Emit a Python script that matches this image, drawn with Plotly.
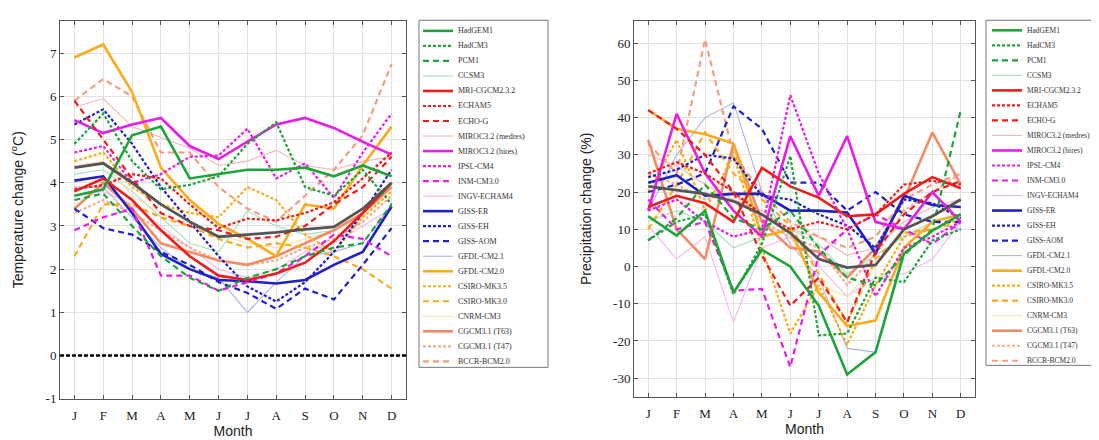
import plotly.graph_objects as go

# ---------------- data ----------------
MONTHS = list(range(1, 13))
MONTH_LABELS = ["J", "F", "M", "A", "M", "J", "J", "A", "S", "O", "N", "D"]

MODEL_NAMES = [
    "HadGEM1", "HadCM3", "PCM1", "CCSM3",
    "MRI-CGCM2.3.2", "ECHAM5", "ECHO-G", "MIROC3.2 (medres)",
    "MIROC3.2 (hires)", "IPSL-CM4", "INM-CM3.0", "INGV-ECHAM4",
    "GISS-ER", "GISS-EH", "GISS-AOM", "GFDL-CM2.1",
    "GFDL-CM2.0", "CSIRO-MK3.5", "CSIRO-MK3.0", "CNRM-CM3",
    "CGCM3.1 (T63)", "CGCM3.1 (T47)", "BCCR-BCM2.0",
]

# Temperature change (deg C)
T_HADGEM1 = [3.7, 3.85, 5.1, 5.3, 4.1, 4.2, 4.3, 4.3, 4.35, 4.15, 4.4, 4.15]
T_HADCM3 = [4.9, 5.6, 4.5, 3.85, 3.95, 4.15, 4.9, 5.4, 3.9, 3.7, 4.3, 3.5]
T_PCM1 = [3.6, 3.75, 3.0, 2.3, 1.8, 1.5, 1.8, 2.0, 2.3, 2.5, 2.6, 3.5]
T_CCSM3 = [4.2, 4.3, 3.8, 3.2, 2.6, 2.4, 3.35, 3.0, 2.8, 2.9, 3.3, 3.9]
T_MRI = [3.8, 4.1, 3.6, 2.9, 2.3, 1.85, 1.75, 1.9, 2.15, 2.65, 3.3, 4.0]
T_ECHAM5 = [3.85, 3.95, 4.2, 4.1, 3.5, 2.95, 3.17, 3.13, 3.3, 3.55, 4.1, 4.7]
T_ECHOG = [5.9, 5.0, 4.1, 3.3, 3.0, 2.9, 2.7, 2.75, 3.0, 3.5, 3.9, 4.6]
T_MIROC_MED = [5.75, 5.95, 5.3, 5.05, 4.8, 4.4, 4.5, 4.75, 4.4, 4.3, 4.5, 4.6]
T_MIROC_HI = [5.45, 5.15, 5.35, 5.5, 4.85, 4.55, 4.95, 5.35, 5.5, 5.27, 4.95, 4.65]
T_IPSL = [4.7, 4.85, 4.0, 4.2, 4.6, 4.63, 5.25, 4.1, 4.45, 3.65, 4.7, 5.6]
T_INM = [2.9, 3.2, 3.4, 1.85, 1.85, 1.5, 1.7, 1.9, 2.3, 2.8, 2.7, 2.3]
T_INGV = [3.7, 3.8, 3.5, 3.0, 2.5, 2.0, 1.8, 2.0, 2.4, 2.6, 3.0, 3.4]
T_GISS_ER = [4.05, 4.15, 3.3, 2.35, 2.0, 1.75, 1.72, 1.67, 1.75, 2.1, 2.4, 3.45]
T_GISS_EH = [5.35, 5.7, 4.9, 3.9, 3.1, 2.3, 1.6, 1.25, 1.7, 2.4, 3.3, 4.3]
T_GISS_AOM = [3.4, 2.95, 2.8, 2.4, 2.1, 1.7, 1.45, 1.08, 1.55, 1.3, 2.1, 2.95]
T_GFDL21 = [3.9, 3.9, 3.2, 2.5, 2.0, 1.8, 1.0, 1.7, 2.3, 2.4, 2.6, 3.5]
T_GFDL20 = [6.9, 7.2, 6.1, 4.35, 3.6, 3.05, 2.7, 2.3, 3.5, 3.4, 4.4, 5.3]
T_CSIRO35 = [4.5, 4.7, 3.9, 3.5, 3.3, 3.2, 3.9, 3.6, 2.8, 2.4, 3.2, 3.8]
T_CSIRO30 = [2.3, 3.5, 3.5, 3.2, 3.0, 2.7, 2.5, 2.6, 2.5, 2.3, 2.0, 1.55]
T_CNRM = [4.4, 4.5, 3.7, 3.3, 3.0, 2.8, 2.6, 2.5, 2.7, 2.9, 3.2, 3.9]
T_CGCM63 = [3.4, 4.0, 3.4, 2.6, 2.4, 2.2, 2.1, 2.3, 2.6, 2.9, 3.3, 3.9]
T_CGCM47 = [3.3, 3.6, 3.3, 2.9, 2.5, 2.2, 2.1, 2.2, 2.5, 2.7, 3.1, 3.7]
T_BCCR = [5.9, 6.4, 6.0, 4.7, 4.7, 3.9, 3.4, 3.1, 3.7, 4.3, 5.1, 6.75]
T_MEAN = [4.35, 4.45, 4.0, 3.5, 3.1, 2.75, 2.8, 2.85, 2.92, 2.98, 3.4, 4.0]

# Precipitation change (%)
P_HADGEM1 = [13.5, 8.3, 15, -7, 4.5, 0, -10.5, -29, -23, 3.5, 9.6, 14]
P_HADCM3 = [7, 12, 14, -7.5, 6, 29.7, -18.5, -18, -3, -4.2, 7, 10]
P_PCM1 = [7, 13, 22, 13, 10, 15, 5, -3, -5, 3, 10, 42]
P_CCSM3 = [12, 15, 12, 5, 8, 10, 6, -2, 3, 8, 12, 14]
P_MRI = [16, 19, 17, 12, 26.5, 21.5, 18.5, 13.5, 14, 19.5, 24, 21]
P_ECHAM5 = [25, 28, 25, 20, 14, 10, 12, 10, 14, 22, 23, 22]
P_ECHOG = [42, 37, 30, 20, 3, -10.5, -3, -15, 4, 14, 20, 23]
P_MIROC_MED = [30, 27, 22, 18, 15, 10, 8, 3, 5, 12, 16, 18]
P_MIROC_HI = [15, 41, 25, 15, 8, 35, 19, 35, 12, 10, 20, 12]
P_IPSL = [15, 18, 12, 8, 10, 46, 25, 10, -8, 5, 8, 12]
P_INM = [18, 10, 12, -6.5, -6, -27, 3, 10, 14, 10, 6, 12]
P_INGV = [11, 2, 8, -15, 5, 8, 0, -8, -3, -2, 2, 12]
P_GISS_ER = [22.5, 24.5, 19, 19.5, 19.5, 15, 15, 14.5, 3.5, 19, 16.5, 16]
P_GISS_EH = [24, 26, 30, 29, 19, 18, 14, 11, 5, 18, 17, 13]
P_GISS_AOM = [20, 22, 25, 43, 37, 22.5, 22.5, 15, 20, 14, 12, 12]
P_GFDL21 = [15, 30, 40, 44, 20, 6, -3, -22, -23, 5, 12, 10]
P_GFDL20 = [42, 37, 35.5, 33, 8, 10, -7, -16, -14.5, 5, 12, 14]
P_CSIRO35 = [20, 34, 15, 30, 5, -18, -5, -21, -5, 8, 10, 13]
P_CSIRO30 = [10, 22, 36, 25, 18, 11, -2, -15, 2, 9, 10, 12]
P_CNRM = [12, 18, 15, 20, 12, 8, -5, -8, 0, 10, 14, 16]
P_CGCM63 = [34, 10, 2, 33, 12, 5, 4, -3, 5, 18, 36, 22]
P_CGCM47 = [25, 22, 18, 20, 12, 8, 5, -5, 3, 15, 20, 25]
P_BCCR = [33, 25, 61, 30, 20, 12, 8, 5, 8, 18, 22, 25]
P_MEAN = [21.5, 20.5, 19.5, 17.5, 14, 9, 2, -0.3, 0.4, 10, 13.5, 18]

TEMP_SERIES = [
    T_HADGEM1, T_HADCM3, T_PCM1, T_CCSM3, T_MRI, T_ECHAM5, T_ECHOG, T_MIROC_MED,
    T_MIROC_HI, T_IPSL, T_INM, T_INGV, T_GISS_ER, T_GISS_EH, T_GISS_AOM, T_GFDL21,
    T_GFDL20, T_CSIRO35, T_CSIRO30, T_CNRM, T_CGCM63, T_CGCM47, T_BCCR,
]
PRECIP_SERIES = [
    P_HADGEM1, P_HADCM3, P_PCM1, P_CCSM3, P_MRI, P_ECHAM5, P_ECHOG, P_MIROC_MED,
    P_MIROC_HI, P_IPSL, P_INM, P_INGV, P_GISS_ER, P_GISS_EH, P_GISS_AOM, P_GFDL21,
    P_GFDL20, P_CSIRO35, P_CSIRO30, P_CNRM, P_CGCM63, P_CGCM47, P_BCCR,
]

# ---------------- styles ----------------
FAMILY_COLORS = [
    ("#1fa33a", "#1fa33a", "#1fa33a", "#a6dfbc"),
    ("#ee1c1c", "#ee1c1c", "#ee1c1c", "#f6b4b4"),
    ("#e61ee6", "#e61ee6", "#e61ee6", "#f2b6f2"),
    ("#2020c8", "#2020c8", "#2020c8", "#aab2ee"),
    ("#fbab1c", "#fbab1c", "#fbab1c", "#fde0ae"),
    ("#f28c66", "#f7ad8e", "#f39e7e", "#f7c2a8"),
]
DASHES = ["solid", "3px,2px", "6px,4px", "solid"]
WIDTHS = [2.6, 2.2, 2.2, 1.1]

COLORS, DASH, WIDTH = [], [], []
for fam in range(6):
    for k in range(4):
        if fam * 4 + k >= len(MODEL_NAMES):
            break
        COLORS.append(FAMILY_COLORS[fam][k])
        DASH.append(DASHES[k])
        WIDTH.append(WIDTHS[k])

W, H = 1099, 440
TICK_FONT = dict(family="Liberation Serif", size=13, color="#222")
TITLE_FONT = dict(family="Liberation Sans", size=14, color="#222")

fig = go.Figure()

panels = [
    dict(series=TEMP_SERIES, mean=T_MEAN, xa="x", ya="y"),
    dict(series=PRECIP_SERIES, mean=P_MEAN, xa="x2", ya="y2"),
]
# draw thin light ones first, then others, mean last
order = [i for i in range(len(MODEL_NAMES)) if i % 4 == 3] + \
        [i for i in range(len(MODEL_NAMES)) if i % 4 != 3][::-1]
for p in panels:
    for i in order:
        fig.add_trace(go.Scatter(
            x=MONTHS, y=p["series"][i], mode="lines", name=MODEL_NAMES[i],
            line=dict(color=COLORS[i], dash=DASH[i], width=WIDTH[i]),
            xaxis=p["xa"], yaxis=p["ya"], showlegend=False,
        ))
    fig.add_trace(go.Scatter(
        x=MONTHS, y=p["mean"], mode="lines", name="Ensemble mean",
        line=dict(color="#555555", width=2.8),
        xaxis=p["xa"], yaxis=p["ya"], showlegend=False,
    ))

# zero lines
fig.add_shape(type="line", xref="x domain", yref="y", x0=0, x1=1, y0=0, y1=0,
              line=dict(color="black", width=2.6, dash="4px,2px"), layer="above")
fig.add_shape(type="line", xref="x2 domain", yref="y2", x0=0, x1=1, y0=0, y1=0,
              line=dict(color="#888", width=1.2, dash="4px,3px"), layer="below")

axis_common = dict(
    showline=True, mirror="ticks", linecolor="#555", linewidth=1,
    ticks="inside", ticklen=4, tickcolor="#555",
    showgrid=True, gridcolor="#e2e2e2", gridwidth=1, zeroline=False,
    tickfont=TICK_FONT,
)
xcommon = dict(axis_common, tickvals=MONTHS, ticktext=MONTH_LABELS,
               range=[0.5, 12.5], ticklabelstandoff=5,
               title=dict(text="Month", font=TITLE_FONT, standoff=2))

fig.update_layout(
    width=W, height=H, margin=dict(l=0, r=0, t=0, b=0),
    paper_bgcolor="white", plot_bgcolor="white",
    xaxis=dict(xcommon, domain=[52 / W, 398 / W], anchor="y"),
    yaxis=dict(axis_common, domain=[1 - 398 / H, 1 - 13 / H], anchor="x",
               range=[-1, 7.75], tickvals=list(range(-1, 8)),
               ticktext=[str(v) for v in range(-1, 8)],
               title=dict(text="Temperature change (<sup>o</sup>C)", font=TITLE_FONT, standoff=18)),
    xaxis2=dict(xcommon, domain=[626 / W, 967 / W], anchor="y2"),
    yaxis2=dict(axis_common, domain=[1 - 396 / H, 1 - 13 / H], anchor="x2",
                range=[-35, 66], tickvals=list(range(-30, 61, 10)),
                ticktext=[str(v) for v in range(-30, 61, 10)],
                title=dict(text="Precipitation change (%)", font=TITLE_FONT, standoff=18)),
    showlegend=False,
)

# ---------------- manual legends ----------------
def add_legend(box_l, box_r, box_t, box_b, first_y, step, line_x0, line_x1, text_x, fsize):
    fig.add_shape(type="rect", xref="paper", yref="paper",
                  x0=box_l / W, x1=box_r / W, y0=1 - box_b / H, y1=1 - box_t / H,
                  line=dict(color="#777", width=1), fillcolor="white", layer="above")
    for i, name in enumerate(MODEL_NAMES):
        yp = first_y + i * step
        fig.add_shape(type="line", xref="paper", yref="paper",
                      x0=line_x0 / W, x1=line_x1 / W, y0=1 - yp / H, y1=1 - yp / H,
                      line=dict(color=COLORS[i], dash=DASH[i], width=WIDTH[i]),
                      layer="above")
        fig.add_annotation(x=text_x / W, y=1 - yp / H, xref="paper", yref="paper",
                           text=name, showarrow=False, xanchor="left", yanchor="middle",
                           font=dict(family="Liberation Serif", size=fsize, color="#333"))

add_legend(411, 540, 12.5, 366, 23.3, 15.3, 415, 445, 448, 8)
add_legend(978, 1098, 12.5, 364, 22.7, 15.3, 984, 1014, 1017, 7.5)

fig.write_html("out.html")
